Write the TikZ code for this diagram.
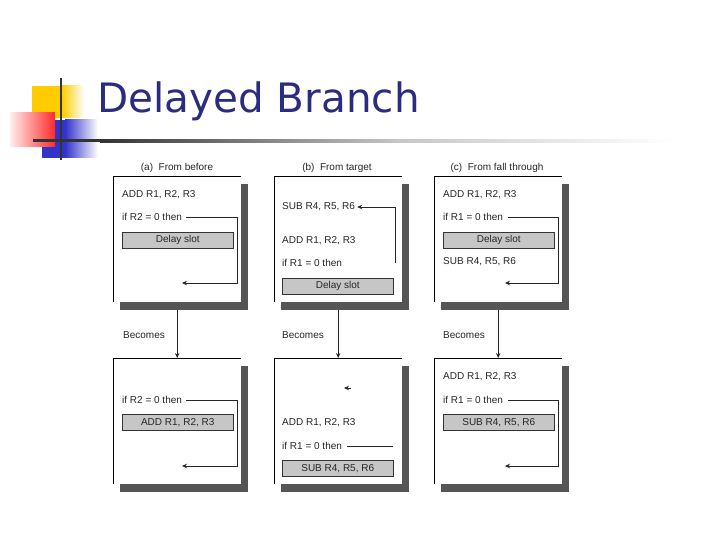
\documentclass[tikz,border=0pt]{standalone}
\usepackage{fontspec}
\setmainfont{Liberation Sans}
\newfontfamily\titlefont{DejaVu Sans}
\usetikzlibrary{arrows.meta}
\definecolor{ycol}{HTML}{FFCC00}
\definecolor{bcol}{HTML}{3333CC}
\definecolor{rcol}{HTML}{FF2A2A}
\definecolor{tcol}{HTML}{2B2B80}
\definecolor{shd}{HTML}{555555}
\definecolor{slotgray}{HTML}{C6C6C6}
\begin{document}
\begin{tikzpicture}[x=1pt,y=-1pt,
  txt/.style={anchor=west,inner sep=0pt,font=\fontsize{10}{12}\selectfont,text=black!85},
  hdr/.style={inner sep=0pt,font=\fontsize{10}{12}\selectfont,text=black!85},
  slot/.style={draw=black!80,line width=0.5pt,fill=slotgray,minimum width=111pt,minimum height=16pt,inner sep=0pt,anchor=north west,font=\fontsize{10}{12}\selectfont,text=black!85},
  panel/.style={fill=white,minimum width=128pt,minimum height=126pt,inner sep=0pt,anchor=north west},
  pshadow/.style={panel,fill=shd},
  frame/.style={draw=black,line width=0.7pt},
  conn/.style={draw=black!85,line width=0.8pt},
  arr/.style={conn,-{Stealth[length=5pt,width=4.5pt]}}]
\useasboundingbox (0,0) rectangle (720,540);

% ---- decoration ----
\fill[ycol] (32,86) rectangle (62,118);
\shade[left color=ycol,right color=white] (62,86) rectangle (84,118);
\fill[bcol] (42,120) rectangle (65,158);
\shade[left color=bcol,right color=white] (65,120) rectangle (98,158);
\shade[left color=rcol!8,right color=rcol] (10,113) rectangle (55,147);
\fill[black!80] (60,78) rectangle (62,160);
\fill[black!80] (33,139.5) rectangle (100,142.5);
\shade[left color=black!80,right color=black!22] (100,139.5) rectangle (400,142.5);
\shade[left color=black!22,right color=white] (400,139.5) rectangle (673,142.5);

% ---- title ----
\node[anchor=base west,inner sep=0pt,font=\titlefont\fontsize{40.5}{44}\selectfont,text=tcol] (title) at (97,113) {Delayed Branch};

% ---- column headers ----
\node[hdr] (ha) at (177,168) {(a)\ \ From before};
\node[hdr] (hb) at (337,168) {(b)\ \ From target};
\node[hdr] (hc) at (497,168) {(c)\ \ From fall through};

% ---- top panels ----
\node[pshadow] (sa1) at (120,184) {};
\node[panel] (pa1) at (113,176) {};
\draw[frame] (pa1.south west) -- (pa1.north west) -- (pa1.north east);
\node[pshadow] (sb1) at (281,184) {};
\node[panel] (pb1) at (274,176) {};
\draw[frame] (pb1.south west) -- (pb1.north west) -- (pb1.north east);
\node[pshadow] (sc1) at (441,184) {};
\node[panel] (pc1) at (434,176) {};
\draw[frame] (pc1.south west) -- (pc1.north west) -- (pc1.north east);

% ---- bottom panels ----
\node[pshadow] (sa2) at (120,366) {};
\node[panel] (pa2) at (113,358) {};
\draw[frame] (pa2.south west) -- (pa2.north west) -- (pa2.north east);
\node[pshadow] (sb2) at (281,366) {};
\node[panel] (pb2) at (274,358) {};
\draw[frame] (pb2.south west) -- (pb2.north west) -- (pb2.north east);
\node[pshadow] (sc2) at (441,366) {};
\node[panel] (pc2) at (434,358) {};
\draw[frame] (pc2.south west) -- (pc2.north west) -- (pc2.north east);

% ---- panel (a) top ----
\node[txt] (adda1) at (122,195) {ADD R1, R2, R3};
\node[txt] (ifa1) at (122,217) {if R2 = 0 then};
\node[slot] (dsa1) at (122,232) {Delay slot};
\coordinate (ca1) at (237,283);
\coordinate (ta1) at (182,283);
\draw[arr] ([xshift=4pt]ifa1.east) -| (ca1) -- (ta1);

% ---- panel (b) top ----
\node[txt] (subb1) at (282,207) {SUB R4, R5, R6};
\node[txt] (addb1) at (282,241) {ADD R1, R2, R3};
\node[txt] (ifb1) at (282,263) {if R1 = 0 then};
\node[slot] (dsb1) at (282,278) {Delay slot};
\coordinate (cb1) at (395,263);
\draw[arr] (cb1) |- ([xshift=2pt]subb1.east);

% ---- panel (c) top ----
\node[txt] (addc1) at (443,195) {ADD R1, R2, R3};
\node[txt] (ifc1) at (443,217) {if R1 = 0 then};
\node[slot] (dsc1) at (443,232) {Delay slot};
\node[txt] (subc1) at (443,262) {SUB R4, R5, R6};
\coordinate (cc1) at (558,283);
\coordinate (tc1) at (505,283);
\draw[arr] ([xshift=5pt]ifc1.east) -| (cc1) -- (tc1);

% ---- Becomes ----
\node[txt] (beca) at (123,335) {Becomes};
\node[txt] (becb) at (282,335) {Becomes};
\node[txt] (becc) at (443,335) {Becomes};
\draw[arr] ([yshift=-8pt]pa1.south) -- (pa2.north);
\draw[arr] ([yshift=-8pt]pb1.south) -- (pb2.north);
\draw[arr] ([yshift=-8pt]pc1.south) -- (pc2.north);

% ---- panel (a) bottom ----
\node[txt] (ifa2) at (122,400) {if R2 = 0 then};
\node[slot] (dsa2) at (122,414) {ADD R1, R2, R3};
\coordinate (ca2) at (237,466);
\coordinate (ta2) at (182,466);
\draw[arr] ([xshift=4pt]ifa2.east) -| (ca2) -- (ta2);

% ---- panel (b) bottom ----
\coordinate (hb2) at (351,388);
\coordinate (he2) at (344,388);
\draw[arr] (hb2) -- (he2);
\node[txt] (addb2) at (282,423) {ADD R1, R2, R3};
\node[txt] (ifb2) at (282,446) {if R1 = 0 then};
\coordinate (lb2) at (393,446);
\draw[conn] ([xshift=5pt]ifb2.east) -- (lb2);
\node[slot] (dsb2) at (282,460) {SUB R4, R5, R6};

% ---- panel (c) bottom ----
\node[txt] (addc2) at (443,377) {ADD R1, R2, R3};
\node[txt] (ifc2) at (443,400) {if R1 = 0 then};
\node[slot] (dsc2) at (443,414) {SUB R4, R5, R6};
\coordinate (cc2) at (558,466);
\coordinate (tc2) at (505,466);
\draw[arr] ([xshift=5pt]ifc2.east) -| (cc2) -- (tc2);
\end{tikzpicture}
\end{document}
